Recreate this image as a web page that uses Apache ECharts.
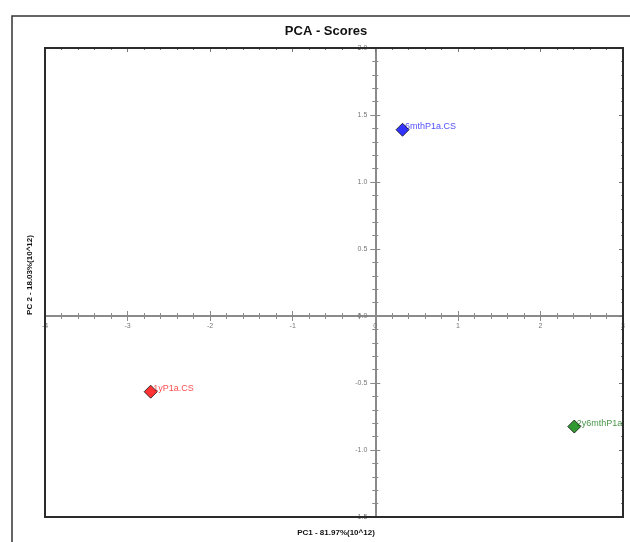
<!DOCTYPE html>
<html>
<head>
<meta charset="utf-8">
<script src="https://cdn.jsdelivr.net/npm/echarts@6/dist/echarts.min.js"></script>
<style>
html,body{margin:0;padding:0;background:#fff;}
#chart{width:630px;height:542px;}
</style>
</head>
<body>
<div id="chart"></div>
<script>
const sampleNames = ['6mthP1a.CS', '1yP1a.CS', '2y6mthP1a.CS'];
const pc1Scores = [0.33, -2.72, 2.41];
const pc2Scores = [1.39, -0.565, -0.825];
const markerColors = ['#0000ff', '#ff0000', '#008000'];
const labelColors = ['#1e1eff', '#ff1e1e', '#1a7a1a'];
const titleText = 'PCA - Scores';
const xName = 'PC1 - 81.97%(10^12)';
const yName = 'PC 2 - 18.03%(10^12)';
const xRange = [-4, 3];
const yRange = [-1.5, 2.0];

const G = {left: 45, top: 48, width: 578, height: 469};
const FONT = 'Liberation Sans, Arial, sans-serif';
const axisGrey = '#8a8a8a';
// pixel distance from grid edges to the zero lines (used to place label-only axes)
const xZeroFromLeft = (0 - xRange[0]) / (xRange[1] - xRange[0]) * G.width;
const yZeroFromBottom = (0 - yRange[0]) / (yRange[1] - yRange[0]) * G.height;

function xAx(extra) {
  return Object.assign({
    type: 'value', min: xRange[0], max: xRange[1], interval: 1,
    splitLine: {show: false},
    axisLabel: {show: false},
    axisLine: {show: false},
    axisTick: {show: true, length: 5, lineStyle: {color: axisGrey, width: 1}},
    minorTick: {show: true, splitNumber: 5, length: 3, lineStyle: {color: axisGrey, width: 1}}
  }, extra);
}
function yAx(extra) {
  return Object.assign({
    type: 'value', min: yRange[0], max: yRange[1], interval: 0.5,
    splitLine: {show: false},
    axisLabel: {show: false},
    axisLine: {show: false},
    axisTick: {show: true, length: 5, lineStyle: {color: axisGrey, width: 1}},
    minorTick: {show: true, splitNumber: 5, length: 3, lineStyle: {color: axisGrey, width: 1}}
  }, extra);
}

const chart = echarts.init(document.getElementById('chart'), null, {renderer: 'canvas'});
chart.setOption({
  animation: false,
  backgroundColor: '#fff',
  grid: {left: G.left, top: G.top, width: G.width, height: G.height, show: false},
  xAxis: [
    xAx({position: 'bottom',
      axisLine: {show: true, onZero: true, onZeroAxisIndex: 0, lineStyle: {color: axisGrey, width: 2}}}),
    xAx({position: 'top',
      axisLine: {show: false, onZero: true, onZeroAxisIndex: 0}}),
    xAx({position: 'top',
      axisLine: {show: false, onZero: false},
      axisTick: {show: true, inside: true, length: 4, lineStyle: {color: '#777', width: 1}},
      minorTick: {show: true, splitNumber: 5, length: 2, lineStyle: {color: '#777', width: 1}}}),
    xAx({position: 'bottom', offset: -yZeroFromBottom,
      axisLine: {show: false, onZero: false},
      axisTick: {show: false}, minorTick: {show: false},
      axisLabel: {show: true, fontSize: 7, color: '#777', fontFamily: FONT, margin: 7}})
  ],
  yAxis: [
    yAx({position: 'left',
      axisLine: {show: true, onZero: true, onZeroAxisIndex: 0, lineStyle: {color: axisGrey, width: 2}}}),
    yAx({position: 'right',
      axisLine: {show: false, onZero: true, onZeroAxisIndex: 0}}),
    yAx({position: 'right',
      axisLine: {show: false, onZero: false},
      axisTick: {show: true, inside: true, length: 4, lineStyle: {color: '#777', width: 1}},
      minorTick: {show: true, splitNumber: 5, length: 2, lineStyle: {color: '#777', width: 1}}}),
    yAx({position: 'left', offset: -xZeroFromLeft,
      axisLine: {show: false, onZero: false},
      axisTick: {show: false}, minorTick: {show: false},
      axisLabel: {show: true, fontSize: 7, color: '#777', fontFamily: FONT, margin: 8,
        formatter: v => v.toFixed(1)}})
  ],
  series: [
    {
      type: 'scatter', xAxisIndex: 0, yAxisIndex: 0, z: 3,
      symbol: 'diamond', symbolSize: 13,
      itemStyle: {color: 'rgba(0,0,0,0)', borderWidth: 0},
      data: pc1Scores.map((x, i) => ({value: [x, pc2Scores[i]], name: sampleNames[i],
        label: {color: labelColors[i]}})),
      label: {show: true, position: 'right', distance: 5, offset: [-9, -3],
        formatter: p => p.name, fontSize: 9, fontFamily: FONT}
    },
    {
      type: 'scatter', xAxisIndex: 0, yAxisIndex: 0, z: 4,
      symbol: 'diamond', symbolSize: 13,
      data: pc1Scores.map((x, i) => ({value: [x, pc2Scores[i]], name: sampleNames[i],
        itemStyle: {color: markerColors[i], borderColor: '#111', borderWidth: 1}})),
      label: {show: false}
    }
  ],
  graphic: [
    {type: 'rect', z: 100, silent: true,
      shape: {x: G.left + G.width + 1, y: 405, width: 20, height: 35},
      style: {fill: '#fff'}},
    {type: 'rect', z: 101, silent: true,
      shape: {x: G.left, y: G.top, width: G.width, height: G.height},
      style: {fill: null, stroke: '#2b2b2b', lineWidth: 2}},
    {type: 'rect', z: 101, silent: true,
      shape: {x: 12, y: 16, width: 640, height: 560},
      style: {fill: null, stroke: '#333', lineWidth: 1.5}},
    {type: 'text', z: 101, x: 326, y: 31,
      style: {text: titleText, font: 'bold 13px ' + FONT, fill: '#111', align: 'center', verticalAlign: 'middle'}},
    {type: 'text', z: 101, x: 336, y: 533,
      style: {text: xName, font: 'bold 8px ' + FONT, fill: '#111', align: 'center', verticalAlign: 'middle'}},
    {type: 'text', z: 101, x: 30, y: 275, rotation: Math.PI / 2,
      style: {text: yName, font: 'bold 8px ' + FONT, fill: '#111', align: 'center', verticalAlign: 'middle'}}
  ]
});
</script>
</body>
</html>
